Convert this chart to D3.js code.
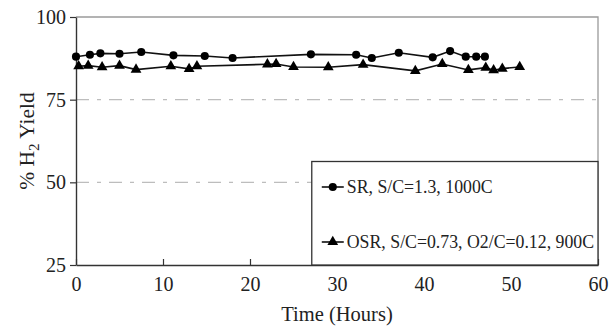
<!DOCTYPE html>
<html>
<head>
<meta charset="utf-8">
<script src="https://cdn.jsdelivr.net/npm/d3@7"></script>
<style>
  body { margin: 0; background: #fff; }
  svg text { font-family: "Liberation Serif", "DejaVu Serif", serif; fill: #222; }
</style>
</head>
<body>
<svg id="chart" width="610" height="328"></svg>
<script>
// SR, S/C=1.3, 1000C
const srHours = [0, 1.6, 2.8, 5, 7.5, 11.2, 14.8, 18, 27, 32.2, 34, 37.1, 41, 43, 44.8, 46, 47];
const srYield = [88, 88.6, 89, 88.9, 89.4, 88.4, 88.2, 87.6, 88.7, 88.6, 87.6, 89.2, 87.8, 89.7, 88, 88, 88];
// OSR, S/C=0.73, O2/C=0.12, 900C
const osrHours = [0.3, 1.4, 3, 5, 6.9, 10.9, 13, 13.9, 22, 23, 25, 29, 33, 39, 42.1, 45.1, 47.1, 48, 49, 51];
const osrYield = [85.1, 85.3, 84.8, 85.3, 84.1, 85.1, 84.3, 85.1, 85.7, 85.8, 84.9, 84.8, 85.6, 83.7, 85.8, 84, 84.7, 83.9, 84.4, 84.9];

const xTicks = [0, 10, 20, 30, 40, 50, 60];
const yTicks = [25, 50, 75, 100];
const gridValues = [75, 50];

const margin = {left: 76, right: 12, top: 17, bottom: 63};
const width = 610 - margin.left - margin.right;
const height = 328 - margin.top - margin.bottom;

const svg = d3.select("#chart");
const g = svg.append("g")
  .attr("transform", "translate(" + margin.left + "," + margin.top + ")");

const x = d3.scaleLinear().domain([0, 60]).range([0, width]);
const y = d3.scaleLinear().domain([25, 100]).range([height, 0]);

// plot frame (top and right in gray)
g.append("path")
  .attr("d", `M0,0H${width}V${height}`)
  .attr("fill", "none")
  .attr("stroke", "#9a9a9a")
  .attr("stroke-width", 1.3);

// dash-dot gridlines
g.selectAll(".grid")
  .data(gridValues)
  .enter()
  .append("line")
  .attr("x1", 0)
  .attr("x2", width)
  .attr("y1", d => y(d))
  .attr("y2", d => y(d))
  .attr("stroke", "#bdbdbd")
  .attr("stroke-width", 1.2)
  .attr("stroke-dasharray", "13,8,4,8");

// axes
const xAxis = g.append("g")
  .attr("transform", "translate(0," + height + ")")
  .call(d3.axisBottom(x).tickValues(xTicks).tickSizeInner(-6).tickSizeOuter(0).tickPadding(12));
const yAxis = g.append("g")
  .call(d3.axisLeft(y).tickValues(yTicks).tickSizeInner(6).tickSizeOuter(0).tickPadding(4));

[xAxis, yAxis].forEach(a => {
  a.select(".domain").attr("stroke", "#333").attr("stroke-width", 1.4);
  a.selectAll(".tick line").attr("stroke", "#333").attr("stroke-width", 1.2);
  a.selectAll(".tick text")
    .style("font-family", "Liberation Serif, serif")
    .style("font-size", "20px")
    .attr("fill", "#222");
});

// legend box
const lg = g.append("g");
lg.append("rect")
  .attr("x", x(27.1))
  .attr("y", y(56.3))
  .attr("width", width - x(27.1))
  .attr("height", height - y(56.3))
  .attr("fill", "#fff")
  .attr("stroke", "#333")
  .attr("stroke-width", 1.3);

// series
const series = [
  {name: "SR, S/C=1.3, 1000C", hours: srHours, values: srYield, marker: d3.symbolCircle, size: 52},
  {name: "OSR, S/C=0.73, O2/C=0.12, 900C", hours: osrHours, values: osrYield, marker: d3.symbolTriangle, size: 50}
];

const line = d3.line().x(d => x(d[0])).y(d => y(d[1]));

series.forEach(s => {
  const pts = s.hours.map((h, i) => [h, s.values[i]]);
  g.append("path")
    .datum(pts)
    .attr("d", line)
    .attr("fill", "none")
    .attr("stroke", "#111")
    .attr("stroke-width", 1.6);
  g.selectAll(null)
    .data(pts)
    .enter()
    .append("path")
    .attr("d", d3.symbol().type(s.marker).size(s.size))
    .attr("transform", d => "translate(" + x(d[0]) + "," + y(d[1]) + ")")
    .attr("fill", "#000");
});

// legend entries
const legendY = [170, 225];
series.forEach((s, i) => {
  const ly = legendY[i];
  const lx = x(27.1) + 10;
  lg.append("line")
    .attr("x1", lx).attr("x2", lx + 22)
    .attr("y1", ly).attr("y2", ly)
    .attr("stroke", "#111").attr("stroke-width", 1.6);
  lg.append("path")
    .attr("d", d3.symbol().type(s.marker).size(s.size))
    .attr("transform", "translate(" + (lx + 11) + "," + ly + ")")
    .attr("fill", "#000");
  lg.append("text")
    .attr("x", lx + 25)
    .attr("y", ly + 6)
    .style("font-size", "17.8px")
    .text(s.name);
});

// axis titles
svg.append("text")
  .attr("x", margin.left + width / 2)
  .attr("y", 321)
  .attr("text-anchor", "middle")
  .style("font-size", "20.5px")
  .text("Time (Hours)");

const yt = svg.append("text")
  .attr("transform", "translate(34," + (margin.top + height / 2) + ") rotate(-90)")
  .attr("text-anchor", "middle")
  .style("font-size", "21.5px");
yt.append("tspan").text("% H");
yt.append("tspan").attr("dy", 5).style("font-size", "15px").text("2");
yt.append("tspan").attr("dy", -5).text(" Yield");
</script>
</body>
</html>
